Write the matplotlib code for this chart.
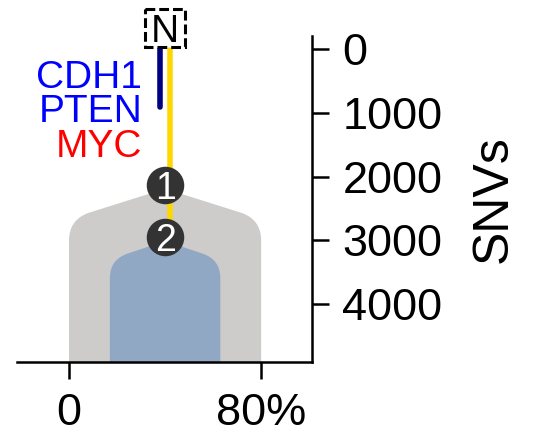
import matplotlib.pyplot as plt
from matplotlib.path import Path
from matplotlib.patches import PathPatch, Rectangle

plt.rcParams['font.family'] = ['Liberation Sans', 'DejaVu Sans']

# clones: apex SNVs, left/right cellular prevalence (%), shoulder + corner
clone_ids = ['1', '2']
clone_colors = ['#CDCCCB', '#91A8C4']
clone_left = [0, 17]
clone_right = [80, 63]
clone_apex = [2190, 3010]
clone_shoulder_dx = [8, 7]          # % in from the edge where the top edge starts to bend
clone_shoulder_y = [2570, 3213]
clone_corner_y = [2680, 3310]
clone_side_y = [3000, 3590]
clone_bottom = 5200

# tree trunk
node_x = 40
node_snvs = [2130, 2955]
trunk_end = 2955
branch_end = 900
normal_y = -340

genes = ['CDH1', 'PTEN', 'MYC']
gene_colors = ['#0000FF', '#0000FF', '#FF0000']
gene_y = [612, 1136, 1686]
gene_x = 30.4


def clone_path(left, right, apex, dx, sh_y, c_y, s_y):
    mid = (left + right) / 2
    verts = [(mid, apex), (left + dx, sh_y), (left, c_y), (left, s_y),
             (left, clone_bottom), (right, clone_bottom), (right, s_y),
             (right, c_y), (right - dx, sh_y), (mid, apex)]
    codes = [Path.MOVETO, Path.LINETO, Path.CURVE3, Path.CURVE3,
             Path.LINETO, Path.LINETO, Path.LINETO,
             Path.CURVE3, Path.CURVE3, Path.CLOSEPOLY]
    return Path(verts, codes)


fig = plt.figure(figsize=(5.33, 4.33), dpi=100)
ax = fig.add_axes([0.0313, 0.164, 0.5537, 0.753])

for i in range(len(clone_ids)):
    p = clone_path(clone_left[i], clone_right[i], clone_apex[i], clone_shoulder_dx[i],
                   clone_shoulder_y[i], clone_corner_y[i], clone_side_y[i])
    ax.add_patch(PathPatch(p, facecolor=clone_colors[i], edgecolor='none', zorder=1))

ax.plot([node_x + 1.9, node_x + 1.9], [0, trunk_end], color='#FFD700', lw=4,
        solid_capstyle='round', zorder=2)
ax.plot([node_x - 2.1, node_x - 2.1], [0, branch_end], color='#000080', lw=4,
        solid_capstyle='round', zorder=2)

for cid, y in zip(clone_ids, node_snvs):
    ax.plot(node_x, y, 'o', ms=27, color='#333333', mec='none', zorder=3)
    ax.text(node_x, y, cid, color='white', fontsize=27, ha='center', va='center_baseline',
            zorder=4)

# normal node
ax.add_patch(Rectangle((node_x - 8.3, normal_y - 300), 16.6, 600, facecolor='white',
                       edgecolor='black', lw=2.2, ls=(0, (3.2, 1.3)), clip_on=False, zorder=5))
ax.text(node_x, normal_y, 'N', fontsize=28, ha='center', va='center_baseline',
        clip_on=False, zorder=6)

for g, c, y in zip(genes, gene_colors, gene_y):
    ax.text(gene_x, y, g, color=c, fontsize=28, ha='right', va='baseline')

ax.set_xlim(-21.8, 101.1)
ax.set_ylim(4910, -210)
ax.set_xticks([0, 80])
ax.set_xticklabels(['0', '80%'])
ax.set_yticks([0, 1000, 2000, 3000, 4000])
ax.yaxis.tick_right()
ax.yaxis.set_label_position('right')
ax.set_ylabel('SNVs', fontsize=36, labelpad=20)

for s in ['top', 'left']:
    ax.spines[s].set_visible(False)
for s in ['bottom', 'right']:
    ax.spines[s].set_linewidth(1.8)
ax.tick_params(width=1.8, length=12, labelsize=32.5, pad=10)

fig.savefig('out.png', dpi=100)
